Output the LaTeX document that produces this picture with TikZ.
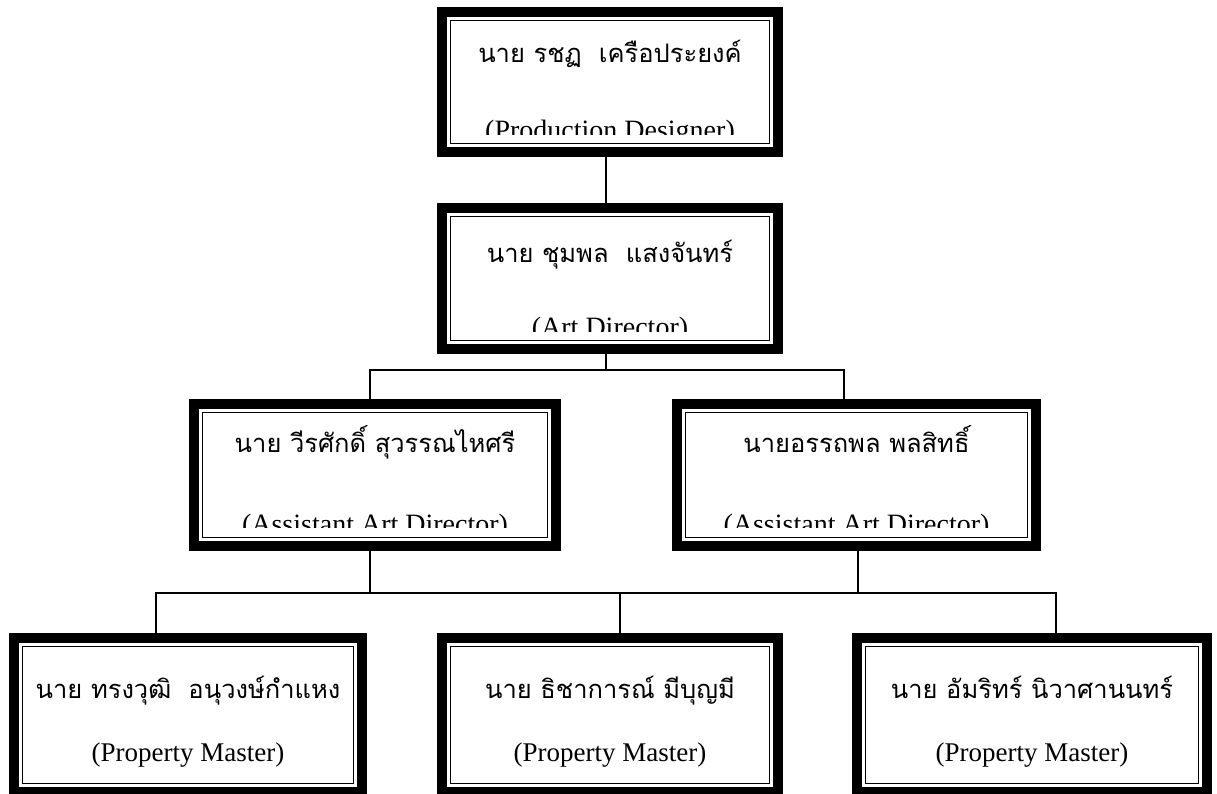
\documentclass[tikz,border=0pt]{standalone}
\usepackage{fontspec}
\usepackage{tikz}
\usepackage{xcolor}
\setmainfont{Liberation Serif}
\newfontfamily\thaifont[Script=Thai]{Loma}

\begin{document}
\begin{tikzpicture}[x=1pt, y=-1pt, align=center]
            \tikzstyle{every node}+=[inner sep=0pt, outer sep=0pt]
            \tikzstyle{boxframe}=[draw=black, line width=10pt, minimum width=336pt, minimum height=140pt]
            \tikzstyle{boxinner}=[black, line width=1.6pt]
            \tikzstyle{thainame}=[font=\thaifont\fontsize{25.5}{30}\selectfont, anchor=base]
            \tikzstyle{roletext}=[font=\fontsize{28}{32}\selectfont, anchor=base]
            \tikzstyle{link}=[black, line width=1.3pt]
            \useasboundingbox (0,0) rectangle (1217,794);
            \node [boxframe] (pd) at (610,82) {};
            \draw [boxinner] ([shift={(8.5pt,-8.5pt)}]pd.north west) rectangle ([shift={(-8.5pt,8.5pt)}]pd.south east);
            \node [thainame] (pdname) at (610,63) {นาย รชฏ\ \ เครือประยงค์};
            \begin{scope}
            \clip (437,0) rectangle (783,135);
            \node [roletext] (pdrole) at (610,140) {(Production Designer)};
            \end{scope}
            \node [boxframe, minimum height=141pt] (ad) at (610,278.5) {};
            \draw [boxinner] ([shift={(8.5pt,-8.5pt)}]ad.north west) rectangle ([shift={(-8.5pt,8.5pt)}]ad.south east);
            \node [thainame] (adname) at (610,262) {นาย ชุมพล\ \ แสงจันทร์};
            \begin{scope}
            \clip (437,200) rectangle (783,331);
            \node [roletext] (adrole) at (610,336) {(Art Director)};
            \end{scope}
            \node [boxframe, minimum width=362pt, minimum height=142pt] (aad1) at (375,475) {};
            \draw [boxinner] ([shift={(8.5pt,-8.5pt)}]aad1.north west) rectangle ([shift={(-8.5pt,8.5pt)}]aad1.south east);
            \node [thainame] (aad1name) at (375,452) {นาย วีรศักดิ์ สุวรรณไหศรี};
            \begin{scope}
            \clip (189,395) rectangle (561,527);
            \node [roletext] (aad1role) at (375,533) {(Assistant Art Director)};
            \end{scope}
            \node [boxframe, minimum width=359pt, minimum height=142pt] (aad2) at (856.5,475) {};
            \draw [boxinner] ([shift={(8.5pt,-8.5pt)}]aad2.north west) rectangle ([shift={(-8.5pt,8.5pt)}]aad2.south east);
            \node [thainame] (aad2name) at (856.5,452) {นายอรรถพล พลสิทธิ์};
            \begin{scope}
            \clip (672,395) rectangle (1041,527);
            \node [roletext] (aad2role) at (856.5,533) {(Assistant Art Director)};
            \end{scope}
            \node [boxframe, minimum width=348pt, minimum height=154pt] (pm1) at (188,715) {};
            \draw [boxinner] ([shift={(8.5pt,-8.5pt)}]pm1.north west) rectangle ([shift={(-8.5pt,8.5pt)}]pm1.south east);
            \node [thainame] (pm1name) at (188,698) {นาย ทรงวุฒิ\ \ อนุวงษ์กำแหง};
            \node [roletext, font=\fontsize{27}{31}\selectfont] (pm1role) at (188,761) {(Property Master)};
            \node [boxframe, minimum height=154pt] (pm2) at (610,715) {};
            \draw [boxinner] ([shift={(8.5pt,-8.5pt)}]pm2.north west) rectangle ([shift={(-8.5pt,8.5pt)}]pm2.south east);
            \node [thainame] (pm2name) at (610,698) {นาย ธิชาการณ์ มีบุญมี};
            \node [roletext, font=\fontsize{27}{31}\selectfont] (pm2role) at (610,761) {(Property Master)};
            \node [boxframe, minimum width=350pt, minimum height=154pt] (pm3) at (1032,715) {};
            \draw [boxinner] ([shift={(8.5pt,-8.5pt)}]pm3.north west) rectangle ([shift={(-8.5pt,8.5pt)}]pm3.south east);
            \node [thainame] (pm3name) at (1032,698) {นาย อัมริทร์ นิวาศานนทร์};
            \node [roletext, font=\fontsize{27}{31}\selectfont] (pm3role) at (1032,761) {(Property Master)};
            \coordinate (bus1) at (606,370);
            \coordinate (bus2a) at (370,593);
            \coordinate (bus2b) at (858,593);
            \draw [link] ([xshift=-4pt]pd.south) -- ([xshift=-4pt]ad.north);
            \draw [link] ([xshift=-4pt]ad.south) -- (bus1);
            \draw [link] ([xshift=-5pt]aad1.north) |- (bus1) -| ([xshift=-12.5pt]aad2.north);
            \draw [link] ([xshift=-5pt]aad1.south) -- (bus2a);
            \draw [link] ([xshift=1.5pt]aad2.south) -- (bus2b);
            \draw [link] ([xshift=-32pt]pm1.north) |- (bus2a) -- (bus2b) -| ([xshift=24pt]pm3.north);
            \draw [link] ([xshift=10pt]pm2.north) -- ([xshift=10pt]pm2.north |- bus2a);
\end{tikzpicture}
\end{document}
